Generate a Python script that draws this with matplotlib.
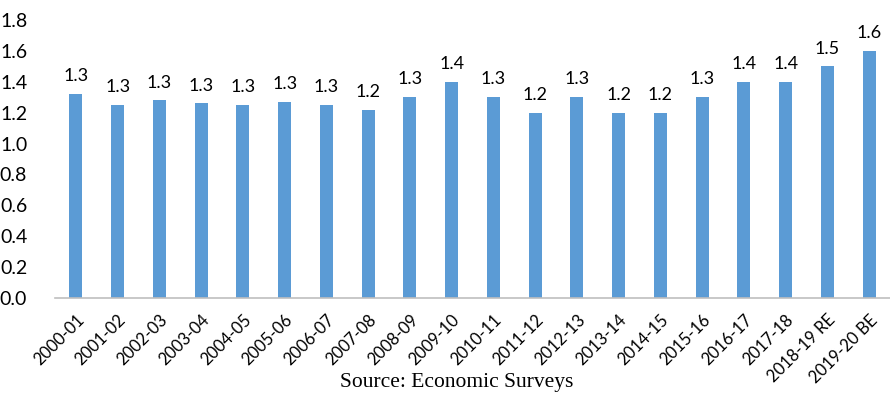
import numpy as np
import matplotlib
matplotlib.use("Agg")
import matplotlib.pyplot as plt
from decimal import Decimal, ROUND_HALF_UP

years = ["2000-01", "2001-02", "2002-03", "2003-04", "2004-05", "2005-06",
         "2006-07", "2007-08", "2008-09", "2009-10", "2010-11", "2011-12",
         "2012-13", "2013-14", "2014-15", "2015-16", "2016-17", "2017-18",
         "2018-19 RE", "2019-20 BE"]
share = [1.32, 1.25, 1.28, 1.26, 1.25, 1.27, 1.25, 1.22, 1.30, 1.40,
         1.30, 1.20, 1.30, 1.20, 1.20, 1.30, 1.40, 1.40, 1.50, 1.60]
yticks = [0.0, 0.2, 0.4, 0.6, 0.8, 1.0, 1.2, 1.4, 1.6, 1.8]


def fmt1(v):
    # round half up, like a spreadsheet does
    return str(Decimal(str(v)).quantize(Decimal("0.1"), rounding=ROUND_HALF_UP))


plt.rcParams['font.family'] = ['Lato', 'DejaVu Sans']

fig = plt.figure(figsize=(8.9, 3.96), dpi=100)
ax = fig.add_axes([55 / 890, 1 - 298 / 396, 835 / 890, 278 / 396])

x = np.arange(len(years))
bars = ax.bar(x, share, width=0.31, color="#5B9BD5", zorder=2)

for xi, v in zip(x, share):
    ax.annotate(fmt1(v), (xi, v), xytext=(0, 7), textcoords="offset points",
                ha="center", va="bottom", fontsize=13, color="#000000")

ax.set_xlim(-0.5, len(years) - 0.5)
ax.set_ylim(0, 1.8)
ax.set_yticks(yticks)
ax.set_yticklabels([f"{t:.1f}" for t in yticks], fontsize=14)
ax.set_xticks(x)
ax.set_xticklabels(years, rotation=45, ha="right", rotation_mode="anchor", fontsize=12)
ax.tick_params(axis="both", length=0)
ax.tick_params(axis="x", pad=10)
ax.tick_params(axis="y", pad=20)

for side in ["top", "right", "left"]:
    ax.spines[side].set_visible(False)
ax.spines["bottom"].set_color("#BFBFBF")
ax.spines["bottom"].set_linewidth(1.2)

fig.text(457 / 890, 1 - 383 / 396, "Source: Economic Surveys", ha="center", va="center",
         fontsize=15.5, family="Liberation Serif")

fig.savefig("out.png", dpi=100)
